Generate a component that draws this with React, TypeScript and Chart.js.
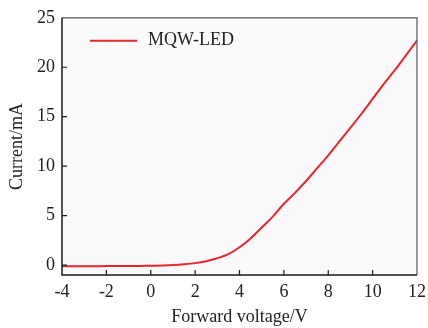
import React, { useEffect, useRef } from "react";
import { Chart, registerables } from "chart.js";
Chart.register(...registerables);

const voltage = [-4, -3.5, -3, -2.5, -2, -1.5, -1, -0.5, 0, 0.5, 1, 1.5, 2, 2.5, 3, 3.5, 4, 4.5, 5, 5.5, 6, 6.5, 7, 7.5, 8, 8.5, 9, 9.5, 10, 10.5, 11, 11.5, 12];
const current = [-0.12, -0.12, -0.11, -0.11, -0.1, -0.1, -0.09, -0.08, -0.06, -0.04, 0.0, 0.08, 0.2, 0.4, 0.7, 1.1, 1.8, 2.7, 3.8, 4.9, 6.2, 7.3, 8.5, 9.8, 11.1, 12.5, 13.9, 15.3, 16.8, 18.3, 19.7, 21.2, 22.7];
const xTicks = [-4, -2, 0, 2, 4, 6, 8, 10, 12];
const yTicks = [0, 5, 10, 15, 20, 25];
const seriesLabel = "MQW-LED";
const xTitle = "Forward voltage/V";
const yTitle = "Current/mA";

const FONT = "'Liberation Serif', 'Times New Roman', serif";
const LINE_COLOR = "#e8262b";
const TEXT_COLOR = "#222222";

const framePlugin = {
  id: "frame",
  beforeDraw(chart: any) {
    const { ctx, chartArea: a } = chart;
    ctx.save();
    ctx.fillStyle = "#fafafa";
    ctx.fillRect(a.left, a.top, a.right - a.left, a.bottom - a.top);
    ctx.restore();
  },
  afterDatasetsDraw(chart: any) {
    const { ctx, chartArea: a } = chart;
    const xs = chart.scales.x;
    const ys = chart.scales.y;
    ctx.save();
    ctx.strokeStyle = "#555555";
    ctx.lineWidth = 1.2;
    ctx.beginPath();
    ctx.moveTo(a.left, a.top);
    ctx.lineTo(a.right, a.top);
    ctx.lineTo(a.right, a.bottom);
    ctx.stroke();
    ctx.strokeStyle = "#1a1a1a";
    ctx.lineWidth = 1.5;
    ctx.beginPath();
    ctx.moveTo(a.left, a.top);
    ctx.lineTo(a.left, a.bottom);
    ctx.lineTo(a.right, a.bottom);
    ctx.stroke();
    ctx.lineWidth = 1.2;
    ctx.beginPath();
    xs.ticks.forEach((t: any) => {
      const px = xs.getPixelForValue(t.value);
      if (px <= a.left + 1 || px >= a.right - 1) return;
      ctx.moveTo(px, a.bottom);
      ctx.lineTo(px, a.bottom - 5);
    });
    ys.ticks.forEach((t: any) => {
      const py = ys.getPixelForValue(t.value);
      if (py <= a.top + 1 || py >= a.bottom - 1) return;
      ctx.moveTo(a.left, py);
      ctx.lineTo(a.left + 5, py);
    });
    ctx.stroke();
    const ds = chart.data.datasets[0];
    ctx.strokeStyle = ds.borderColor;
    ctx.lineWidth = 2;
    ctx.beginPath();
    ctx.moveTo(a.left + 28, a.top + 23);
    ctx.lineTo(a.left + 75, a.top + 23);
    ctx.stroke();
    ctx.fillStyle = TEXT_COLOR;
    ctx.font = `18px ${FONT}`;
    ctx.textBaseline = "middle";
    ctx.textAlign = "left";
    ctx.fillText(ds.label, a.left + 86, a.top + 22.5);
    ctx.restore();
  },
};

export default function App() {
  const ref = useRef<HTMLCanvasElement>(null);
  useEffect(() => {
    if (!ref.current) return;
    const chart = new Chart(ref.current, {
      type: "line",
      data: {
        datasets: [
          {
            label: seriesLabel,
            data: voltage.map((v, i) => ({ x: v, y: current[i] })),
            borderColor: LINE_COLOR,
            borderWidth: 2,
            pointRadius: 0,
            cubicInterpolationMode: "monotone",
            fill: false,
          },
        ],
      },
      options: {
        animation: false,
        responsive: false,
        devicePixelRatio: 1,
        layout: { padding: { top: 15, right: 11, left: 0, bottom: 0 } },
        plugins: { legend: { display: false }, tooltip: { enabled: false } },
        scales: {
          x: {
            type: "linear",
            min: -4,
            max: 12,
            afterBuildTicks: (s: any) => {
              s.ticks = xTicks.map((v) => ({ value: v }));
            },
            afterFit: (s: any) => {
              s.height = 53;
              s.paddingRight = 0;
              s.paddingLeft = 0;
            },
            grid: { display: false, drawTicks: false },
            border: { display: false },
            ticks: { color: TEXT_COLOR, font: { family: FONT, size: 18 }, padding: 6, maxRotation: 0, autoSkip: false },
            title: { display: true, text: xTitle, color: TEXT_COLOR, font: { family: FONT, size: 18 }, padding: { top: 2, bottom: 0 } },
          },
          y: {
            type: "linear",
            min: -1,
            max: 25,
            afterBuildTicks: (s: any) => {
              s.ticks = yTicks.map((v) => ({ value: v }));
            },
            afterFit: (s: any) => {
              s.width = 62;
            },
            grid: { display: false, drawTicks: false },
            border: { display: false },
            ticks: { color: TEXT_COLOR, font: { family: FONT, size: 18 }, padding: 7, autoSkip: false },
            title: { display: true, text: yTitle, color: TEXT_COLOR, font: { family: FONT, size: 18 }, padding: { top: 6, bottom: 0 } },
          },
        },
      },
      plugins: [framePlugin],
    });
    return () => chart.destroy();
  }, []);
  return (
    <div style={{ position: "fixed", left: 0, top: 0, width: 428, height: 328, background: "#ffffff" }}>
      <canvas ref={ref} width={428} height={328} style={{ display: "block", width: 428, height: 328 }} />
    </div>
  );
}
